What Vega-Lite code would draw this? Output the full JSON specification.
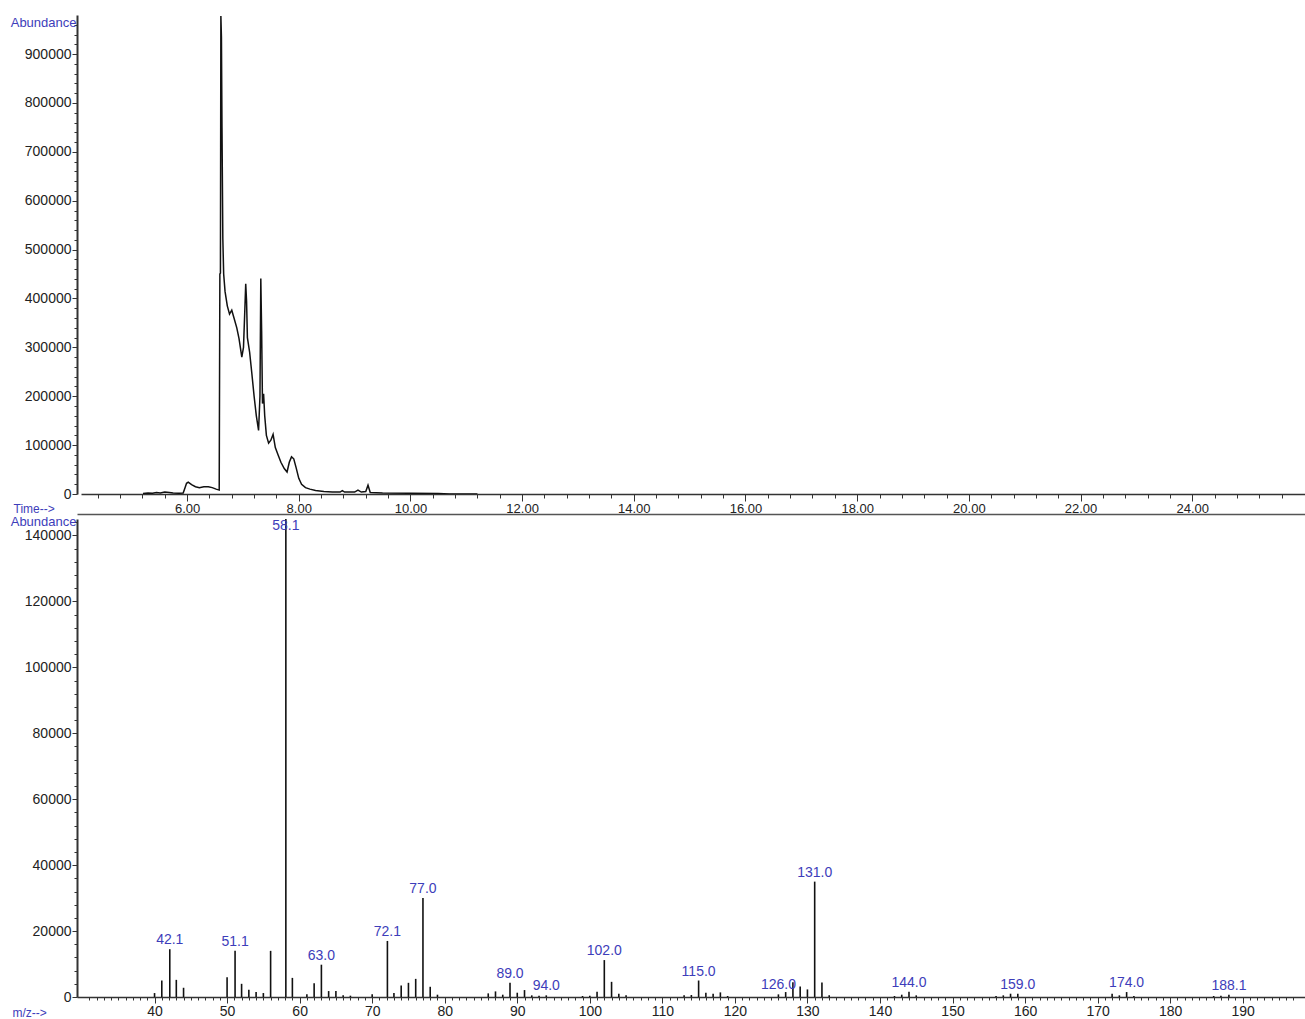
{
  "$schema": "https://vega.github.io/schema/vega-lite/v6.json",
  "autosize": {"type": "pad"},
  "padding": {"left": 10, "top": 15, "right": 0, "bottom": 0},
  "background": "white",
  "spacing": 25,
  "bounds": "flush",
  "config": {
    "view": {"stroke": null},
    "font": "Liberation Sans",
    "axis": {"labelFont": "Liberation Sans", "titleFont": "Liberation Sans", "grid": false, "domainColor": "#333333", "tickColor": "#333333", "labelColor": "#222222", "labelOverlap": false, "labelFlush": false}
  },
  "vconcat": [
    {
      "width": 1228,
      "height": 479,
      "data": {"values": [
        {"time": 5.21, "abundance": 1000}, {"time": 5.3, "abundance": 2000}, {"time": 5.38, "abundance": 1500}, {"time": 5.45, "abundance": 3000},
        {"time": 5.52, "abundance": 2000}, {"time": 5.6, "abundance": 4000}, {"time": 5.68, "abundance": 3000}, {"time": 5.75, "abundance": 2000},
        {"time": 5.85, "abundance": 1500}, {"time": 5.93, "abundance": 2000}, {"time": 5.96, "abundance": 12000}, {"time": 5.99, "abundance": 22000},
        {"time": 6.02, "abundance": 24000}, {"time": 6.08, "abundance": 19000}, {"time": 6.15, "abundance": 15000}, {"time": 6.22, "abundance": 13000},
        {"time": 6.3, "abundance": 15000}, {"time": 6.38, "abundance": 15000}, {"time": 6.45, "abundance": 13000}, {"time": 6.52, "abundance": 10000},
        {"time": 6.575, "abundance": 8000}, {"time": 6.587, "abundance": 450000}, {"time": 6.597, "abundance": 452000}, {"time": 6.605, "abundance": 978000},
        {"time": 6.615, "abundance": 935000}, {"time": 6.625, "abundance": 750000}, {"time": 6.64, "abundance": 522000}, {"time": 6.655, "abundance": 450000},
        {"time": 6.68, "abundance": 414000}, {"time": 6.72, "abundance": 385000}, {"time": 6.76, "abundance": 368000}, {"time": 6.8, "abundance": 376000},
        {"time": 6.84, "abundance": 360000}, {"time": 6.89, "abundance": 340000}, {"time": 6.93, "abundance": 318000}, {"time": 6.98, "abundance": 280000},
        {"time": 7.01, "abundance": 300000}, {"time": 7.035, "abundance": 380000}, {"time": 7.05, "abundance": 430000}, {"time": 7.065, "abundance": 395000},
        {"time": 7.08, "abundance": 320000}, {"time": 7.12, "abundance": 290000}, {"time": 7.16, "abundance": 246000}, {"time": 7.2, "abundance": 200000},
        {"time": 7.24, "abundance": 160000}, {"time": 7.28, "abundance": 130000}, {"time": 7.305, "abundance": 200000}, {"time": 7.32, "abundance": 441000},
        {"time": 7.335, "abundance": 333000}, {"time": 7.35, "abundance": 185000}, {"time": 7.37, "abundance": 205000}, {"time": 7.39, "abundance": 160000},
        {"time": 7.42, "abundance": 120000}, {"time": 7.46, "abundance": 104000}, {"time": 7.5, "abundance": 110000}, {"time": 7.54, "abundance": 122000},
        {"time": 7.58, "abundance": 95000}, {"time": 7.63, "abundance": 80000}, {"time": 7.68, "abundance": 65000}, {"time": 7.74, "abundance": 52000},
        {"time": 7.79, "abundance": 45000}, {"time": 7.83, "abundance": 65000}, {"time": 7.87, "abundance": 76000}, {"time": 7.91, "abundance": 72000},
        {"time": 7.95, "abundance": 55000}, {"time": 8.0, "abundance": 32000}, {"time": 8.05, "abundance": 20000}, {"time": 8.12, "abundance": 13000},
        {"time": 8.2, "abundance": 10000}, {"time": 8.3, "abundance": 7000}, {"time": 8.45, "abundance": 5000}, {"time": 8.6, "abundance": 4000},
        {"time": 8.74, "abundance": 4000}, {"time": 8.78, "abundance": 7000}, {"time": 8.82, "abundance": 4000}, {"time": 9.0, "abundance": 4000},
        {"time": 9.06, "abundance": 8000}, {"time": 9.12, "abundance": 4000}, {"time": 9.2, "abundance": 5000}, {"time": 9.24, "abundance": 18000},
        {"time": 9.28, "abundance": 3000}, {"time": 9.5, "abundance": 2000}, {"time": 10.0, "abundance": 1500}, {"time": 10.5, "abundance": 1000},
        {"time": 10.7, "abundance": 0}, {"time": 11.2, "abundance": 0}
      ]},
      "mark": {"type": "line", "color": "#111111", "strokeWidth": 1.5, "clip": true},
      "encoding": {
        "x": {
          "field": "time", "type": "quantitative",
          "scale": {"domain": [4.1, 26.02], "range": [4, 1228], "nice": false, "zero": false},
          "axis": {
            "title": "Time-->", "titleColor": "#3d3dba", "titleFontSize": 12, "titleFontWeight": "normal",
            "titleX": -64, "titleY": 18, "titleAlign": "left", "titleBaseline": "alphabetic",
            "domainWidth": 1.5, "labelOverlap": false,
            "values": [4.4, 4.8, 5.2, 5.6, 6, 6.4, 6.8, 7.2, 7.6, 8, 8.4, 8.8, 9.2, 9.6, 10, 10.4, 10.8, 11.2, 11.6, 12, 12.4, 12.8, 13.2, 13.6, 14, 14.4, 14.8, 15.2, 15.6, 16, 16.4, 16.8, 17.2, 17.6, 18, 18.4, 18.8, 19.2, 19.6, 20, 20.4, 20.8, 21.2, 21.6, 22, 22.4, 22.8, 23.2, 23.6, 24, 24.4, 24.8, 25.2, 25.6],
            "labelExpr": "abs(datum.value/2 - round(datum.value/2)) < 0.001 ? format(datum.value, '.2f') : ''",
            "tickSize": {"condition": {"test": "abs(datum.value/2 - round(datum.value/2)) < 0.001", "value": 7}, "value": 4},
            "labelFontSize": 13, "labelPadding": 1
          }
        },
        "y": {
          "field": "abundance", "type": "quantitative",
          "scale": {"domain": [0, 980000], "nice": false},
          "axis": {
            "title": "Abundance", "titleAngle": 0, "titleAlign": "right", "titleBaseline": "middle",
            "titleX": -1, "titleY": 7, "titleColor": "#3d3dba", "titleFontSize": 13, "titleFontWeight": "normal",
            "domainWidth": 2, "labelOverlap": false,
            "values": [0, 20000, 40000, 60000, 80000, 100000, 120000, 140000, 160000, 180000, 200000, 220000, 240000, 260000, 280000, 300000, 320000, 340000, 360000, 380000, 400000, 420000, 440000, 460000, 480000, 500000, 520000, 540000, 560000, 580000, 600000, 620000, 640000, 660000, 680000, 700000, 720000, 740000, 760000, 780000, 800000, 820000, 840000, 860000, 880000, 900000, 920000, 940000, 960000],
            "labelExpr": "datum.value % 100000 === 0 ? format(datum.value, 'd') : ''",
            "tickSize": {"condition": {"test": "datum.value % 100000 === 0", "value": 5}, "value": 3},
            "labelFontSize": 14, "labelPadding": 1
          }
        }
      }
    },
    {
      "width": 1228,
      "height": 478,
      "data": {"values": [
        {"mz": 40, "abundance": 1200, "label": ""}, {"mz": 41, "abundance": 5000, "label": ""}, {"mz": 42.1, "abundance": 14500, "label": "42.1"},
        {"mz": 43, "abundance": 5200, "label": ""}, {"mz": 44, "abundance": 2800, "label": ""}, {"mz": 50, "abundance": 6000, "label": ""},
        {"mz": 51.1, "abundance": 14000, "label": "51.1"}, {"mz": 52, "abundance": 4000, "label": ""}, {"mz": 53, "abundance": 2200, "label": ""},
        {"mz": 54, "abundance": 1500, "label": ""}, {"mz": 55, "abundance": 1200, "label": ""}, {"mz": 56, "abundance": 14000, "label": ""},
        {"mz": 58.1, "abundance": 145000, "label": "58.1"}, {"mz": 59, "abundance": 5800, "label": ""}, {"mz": 61, "abundance": 800, "label": ""},
        {"mz": 62, "abundance": 4200, "label": ""}, {"mz": 63.0, "abundance": 9800, "label": "63.0"}, {"mz": 64, "abundance": 1800, "label": ""},
        {"mz": 65, "abundance": 1800, "label": ""}, {"mz": 66, "abundance": 500, "label": ""}, {"mz": 67, "abundance": 400, "label": ""},
        {"mz": 70, "abundance": 800, "label": ""}, {"mz": 72.1, "abundance": 17000, "label": "72.1"}, {"mz": 73, "abundance": 1200, "label": ""},
        {"mz": 74, "abundance": 3500, "label": ""}, {"mz": 75, "abundance": 4300, "label": ""}, {"mz": 76, "abundance": 5500, "label": ""},
        {"mz": 77.0, "abundance": 30000, "label": "77.0"}, {"mz": 78, "abundance": 3100, "label": ""}, {"mz": 79, "abundance": 700, "label": ""},
        {"mz": 86, "abundance": 1100, "label": ""}, {"mz": 87, "abundance": 1700, "label": ""}, {"mz": 88, "abundance": 700, "label": ""},
        {"mz": 89.0, "abundance": 4300, "label": "89.0"}, {"mz": 90, "abundance": 1300, "label": ""}, {"mz": 91, "abundance": 2100, "label": ""},
        {"mz": 92, "abundance": 500, "label": ""}, {"mz": 93, "abundance": 400, "label": ""}, {"mz": 94.0, "abundance": 500, "label": "94.0"},
        {"mz": 99, "abundance": 300, "label": ""}, {"mz": 100, "abundance": 400, "label": ""}, {"mz": 101, "abundance": 1600, "label": ""},
        {"mz": 102.0, "abundance": 11200, "label": "102.0"}, {"mz": 103, "abundance": 4600, "label": ""}, {"mz": 104, "abundance": 1000, "label": ""},
        {"mz": 105, "abundance": 500, "label": ""}, {"mz": 113, "abundance": 500, "label": ""}, {"mz": 114, "abundance": 600, "label": ""},
        {"mz": 115.0, "abundance": 5000, "label": "115.0"}, {"mz": 116, "abundance": 1300, "label": ""}, {"mz": 117, "abundance": 1000, "label": ""},
        {"mz": 118, "abundance": 1400, "label": ""}, {"mz": 119, "abundance": 300, "label": ""}, {"mz": 126.0, "abundance": 800, "label": "126.0"},
        {"mz": 127, "abundance": 1500, "label": ""}, {"mz": 128, "abundance": 4500, "label": ""}, {"mz": 129, "abundance": 3200, "label": ""},
        {"mz": 130, "abundance": 2300, "label": ""}, {"mz": 131.0, "abundance": 35000, "label": "131.0"}, {"mz": 132, "abundance": 4400, "label": ""},
        {"mz": 133, "abundance": 500, "label": ""}, {"mz": 142, "abundance": 300, "label": ""}, {"mz": 143, "abundance": 700, "label": ""},
        {"mz": 144.0, "abundance": 1600, "label": "144.0"}, {"mz": 145, "abundance": 500, "label": ""}, {"mz": 156, "abundance": 300, "label": ""},
        {"mz": 157, "abundance": 500, "label": ""}, {"mz": 158, "abundance": 1000, "label": ""}, {"mz": 159.0, "abundance": 1000, "label": "159.0"},
        {"mz": 172, "abundance": 1000, "label": ""}, {"mz": 173, "abundance": 500, "label": ""}, {"mz": 174.0, "abundance": 1500, "label": "174.0"},
        {"mz": 175, "abundance": 300, "label": ""}, {"mz": 186, "abundance": 300, "label": ""}, {"mz": 187, "abundance": 400, "label": ""},
        {"mz": 188.1, "abundance": 700, "label": "188.1"}
      ]},
      "layer": [
        {
          "mark": {"type": "bar", "color": "#111111", "size": 1.6, "clip": true},
          "encoding": {
            "x": {
              "field": "mz", "type": "quantitative",
              "scale": {"domain": [30, 197.9], "nice": false, "zero": false},
              "axis": {
                "orient": "bottom",
                "title": "m/z-->", "titleColor": "#3d3dba", "titleFontSize": 12, "titleFontWeight": "normal",
                "titleX": -65, "titleY": 19, "titleAlign": "left", "titleBaseline": "alphabetic",
                "domainWidth": 1.5, "labelOverlap": false,
                "values": [31, 32, 33, 34, 35, 36, 37, 38, 39, 40, 41, 42, 43, 44, 45, 46, 47, 48, 49, 50, 51, 52, 53, 54, 55, 56, 57, 58, 59, 60, 61, 62, 63, 64, 65, 66, 67, 68, 69, 70, 71, 72, 73, 74, 75, 76, 77, 78, 79, 80, 81, 82, 83, 84, 85, 86, 87, 88, 89, 90, 91, 92, 93, 94, 95, 96, 97, 98, 99, 100, 101, 102, 103, 104, 105, 106, 107, 108, 109, 110, 111, 112, 113, 114, 115, 116, 117, 118, 119, 120, 121, 122, 123, 124, 125, 126, 127, 128, 129, 130, 131, 132, 133, 134, 135, 136, 137, 138, 139, 140, 141, 142, 143, 144, 145, 146, 147, 148, 149, 150, 151, 152, 153, 154, 155, 156, 157, 158, 159, 160, 161, 162, 163, 164, 165, 166, 167, 168, 169, 170, 171, 172, 173, 174, 175, 176, 177, 178, 179, 180, 181, 182, 183, 184, 185, 186, 187, 188, 189, 190, 191, 192, 193, 194, 195, 196, 197],
                "labelExpr": "datum.value % 10 === 0 ? format(datum.value, 'd') : ''",
                "tickSize": {"condition": {"test": "datum.value % 10 === 0", "value": 6}, "value": 3},
                "labelFontSize": 14, "labelPadding": 1
              }
            },
            "y": {
              "field": "abundance", "type": "quantitative",
              "scale": {"domain": [0, 145000], "nice": false},
              "axis": {
                "title": "Abundance", "titleAngle": 0, "titleAlign": "right", "titleBaseline": "middle",
                "titleX": -1, "titleY": 2, "titleColor": "#3d3dba", "titleFontSize": 13, "titleFontWeight": "normal",
                "domainWidth": 2, "labelOverlap": false,
                "values": [0, 4000, 8000, 12000, 16000, 20000, 24000, 28000, 32000, 36000, 40000, 44000, 48000, 52000, 56000, 60000, 64000, 68000, 72000, 76000, 80000, 84000, 88000, 92000, 96000, 100000, 104000, 108000, 112000, 116000, 120000, 124000, 128000, 132000, 136000, 140000, 144000],
                "labelExpr": "datum.value % 20000 === 0 ? format(datum.value, 'd') : ''",
                "tickSize": {"condition": {"test": "datum.value % 20000 === 0", "value": 5}, "value": 3},
                "labelFontSize": 14, "labelPadding": 1
              }
            }
          }
        },
        {
          "transform": [{"filter": "datum.label != '' && datum.abundance < 100000"}],
          "mark": {"type": "text", "color": "#3d3dba", "fontSize": 14, "baseline": "bottom", "dy": -2},
          "encoding": {
            "x": {
              "field": "mz", "type": "quantitative",
              "axis": {"orient": "top", "labels": false, "ticks": false, "domain": true, "domainColor": "#555555", "domainWidth": 1.5, "offset": 5, "title": null}
            },
            "y": {"field": "abundance", "type": "quantitative", "axis": null},
            "text": {"field": "label"}
          }
        },
        {
          "transform": [{"filter": "datum.abundance >= 100000"}],
          "mark": {"type": "text", "color": "#3d3dba", "fontSize": 14, "baseline": "top", "dy": 0},
          "encoding": {
            "x": {"field": "mz", "type": "quantitative", "axis": null},
            "y": {"field": "abundance", "type": "quantitative", "axis": null},
            "text": {"field": "label"}
          }
        }
      ],
      "resolve": {"axis": {"x": "independent", "y": "independent"}}
    }
  ]
}
